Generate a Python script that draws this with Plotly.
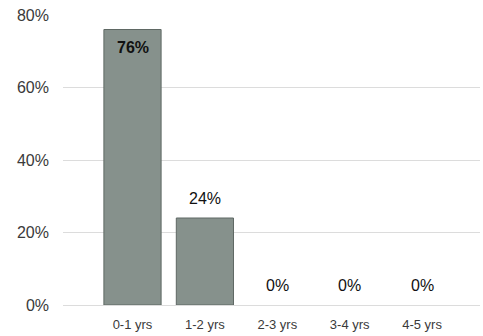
import plotly.graph_objects as go

# Share of items by age band
categories = ["0-1 yrs", "1-2 yrs", "2-3 yrs", "3-4 yrs", "4-5 yrs"]
values = [76, 24, 0, 0, 0]
y_ticks = [0, 20, 40, 60, 80]
y_tick_labels = ["0%", "20%", "40%", "60%", "80%"]

bar_color = "#86918c"
font_family = "Liberation Sans, Arial, sans-serif"

fig = go.Figure()
fig.add_trace(go.Bar(
    x=categories,
    y=values,
    width=0.79,
    marker=dict(
        color=bar_color,
        line=dict(color="#5f6864", width=[1 if v > 0 else 0 for v in values]),
    ),
    hoverinfo="skip",
))

# Value labels: inside the top of tall bars, above the short ones
annotations = []
for cat, v in zip(categories, values):
    inside = v > 50
    annotations.append(dict(
        x=cat, y=v, xref="x", yref="y",
        text=f"<b>{v}%</b>" if inside else f"{v}%",
        showarrow=False,
        yanchor="top" if inside else "bottom",
        yshift=-7 if inside else 9,
        font=dict(family=font_family, size=16, color="#111111"),
    ))

fig.update_layout(
    width=483, height=336,
    margin=dict(l=63, r=3, t=15, b=31),
    paper_bgcolor="white",
    plot_bgcolor="white",
    showlegend=False,
    annotations=annotations,
    font=dict(family=font_family, color="#3a3a3a"),
    xaxis=dict(
        type="category",
        range=[-0.96, 4.8],
        showgrid=False,
        showline=False,
        zeroline=False,
        ticks="",
        tickfont=dict(size=13, color="#3a3a3a"),
        ticklabelstandoff=10,
    ),
    yaxis=dict(
        range=[0, 80],
        tickvals=y_ticks,
        ticktext=y_tick_labels,
        showgrid=True,
        gridcolor="#dcdcdc",
        gridwidth=1,
        zeroline=True,
        zerolinecolor="#dcdcdc",
        zerolinewidth=1,
        showline=False,
        ticks="",
        tickfont=dict(size=16, color="#3a3a3a"),
        ticklabelstandoff=13,
    ),
)

fig.write_html("out.html")
